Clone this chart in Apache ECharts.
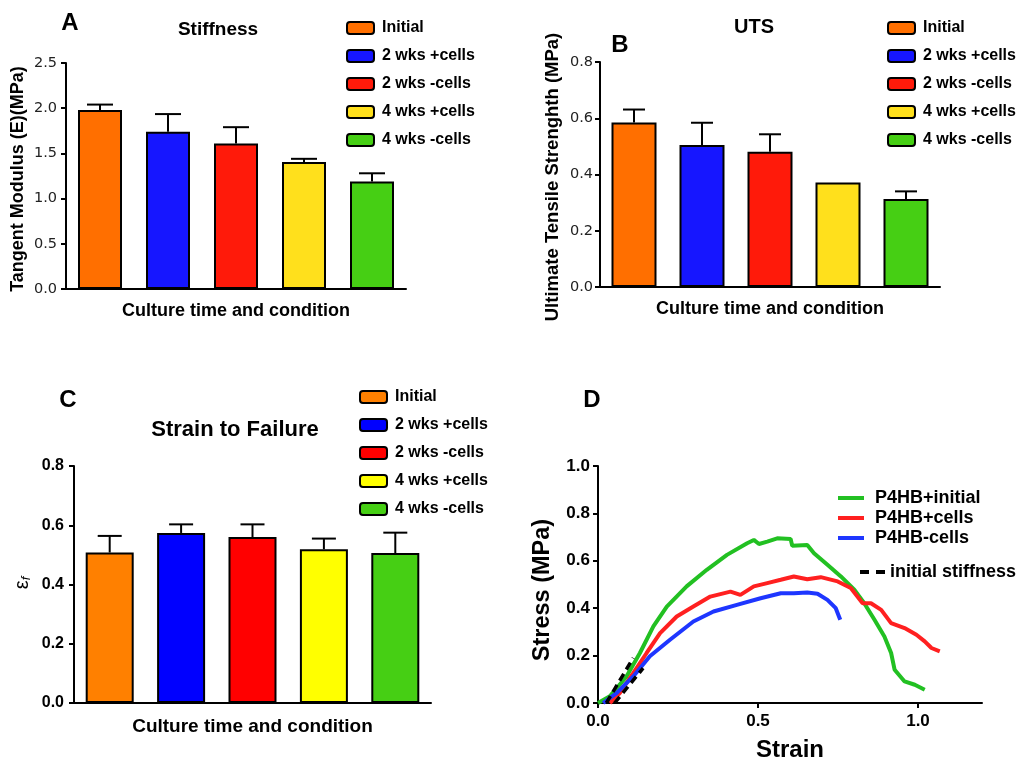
<!DOCTYPE html>
<html><head><meta charset="utf-8">
<script src="https://cdn.jsdelivr.net/npm/echarts@6/dist/echarts.min.js"></script>
<style>html,body{margin:0;padding:0;background:#fff}#c{width:1023px;height:763px}</style>
</head><body><div id="c"></div>
<script>
// ---------- data ----------
const groups = ['Initial', '2 wks +cells', '2 wks -cells', '4 wks +cells', '4 wks -cells'];
const stiffness = [1.98, 1.74, 1.61, 1.405, 1.19];
const stiffnessErr = [0.06, 0.195, 0.18, 0.035, 0.09];
const uts = [0.585, 0.505, 0.481, 0.372, 0.313];
const utsErr = [0.046, 0.079, 0.062, 0, 0.027];
const strainFail = [0.508, 0.574, 0.560, 0.519, 0.506];
const strainFailErr = [0.056, 0.029, 0.043, 0.036, 0.069];
const colorsAB = ['#FF6F00', '#1616FF', '#FF1A0A', '#FFE01C', '#46CF14'];
const colorsC = ['#FF8000', '#0000FF', '#FF0000', '#FFFF00', '#46CF14'];
const ticksA = [0, 0.5, 1.0, 1.5, 2.0, 2.5];
const ticksB = [0, 0.2, 0.4, 0.6, 0.8];
const ticksC = [0, 0.2, 0.4, 0.6, 0.8];
const ticksDy = [0, 0.2, 0.4, 0.6, 0.8, 1.0];
const ticksDx = [0, 0.5, 1.0];
const strainMaxD = 1.2;
const curveNames = ['P4HB+initial', 'P4HB+cells', 'P4HB-cells'];
const curveColors = ['#22C022', '#FF2020', '#1E36FF'];
const p4hbInitial = [[0,0],[0.037,0.028],[0.089,0.112],[0.131,0.211],[0.173,0.323],[0.215,0.407],[0.277,0.492],[0.340,0.562],[0.403,0.625],[0.466,0.674],[0.487,0.688],[0.503,0.671],[0.529,0.681],[0.560,0.695],[0.602,0.692],[0.607,0.663],[0.654,0.667],[0.675,0.632],[0.717,0.583],[0.759,0.534],[0.801,0.478],[0.832,0.421],[0.864,0.351],[0.895,0.281],[0.916,0.211],[0.927,0.140],[0.958,0.091],[0.990,0.077],[1.021,0.056]];
const p4hbCells = [[0.037,0],[0.068,0.042],[0.110,0.126],[0.152,0.211],[0.194,0.295],[0.246,0.365],[0.298,0.407],[0.351,0.449],[0.414,0.470],[0.445,0.456],[0.487,0.492],[0.529,0.506],[0.571,0.520],[0.612,0.534],[0.654,0.522],[0.696,0.531],[0.749,0.513],[0.790,0.485],[0.827,0.421],[0.853,0.421],[0.885,0.393],[0.916,0.337],[0.958,0.316],[0.995,0.288],[1.021,0.260],[1.042,0.232],[1.068,0.218]];
const p4hbNoCells = [[0.016,0],[0.058,0.042],[0.110,0.112],[0.162,0.197],[0.225,0.267],[0.298,0.344],[0.361,0.386],[0.434,0.414],[0.508,0.442],[0.571,0.463],[0.612,0.463],[0.654,0.466],[0.686,0.461],[0.717,0.435],[0.743,0.400],[0.757,0.351]];
const stiffLine1 = [[0.026,0.0],[0.110,0.190]];
const stiffLine2 = [[0.052,0.0],[0.141,0.147]];

// ---------- helpers ----------
const FF = '"Liberation Sans", Arial, sans-serif';
const FW = '"DejaVu Sans", sans-serif';
const BLACK = '#000';
function bars(panel, vals, colors, g, width) {
  return groups.map((name, i) => ({
    name: panel + '|' + name, type: 'bar', xAxisIndex: g, yAxisIndex: g, stack: panel,
    barWidth: width, data: vals.map((v, j) => j === i ? v : '-'),
    itemStyle: { color: colors[i], borderColor: BLACK, borderWidth: 2 }, z: 2
  }));
}
function errs(vals, err, g, cap) {
  return {
    type: 'custom', xAxisIndex: g, yAxisIndex: g, z: 1,
    data: vals.map((v, i) => [i, v, err[i]]), encode: { x: 0, y: 1 },
    renderItem: (params, api) => {
      const i = api.value(0), v = api.value(1), e = api.value(2);
      if (!e) return;
      const b = api.coord([i, v]), t = api.coord([i, v + e]);
      return { type: 'group', children: [
        { type: 'line', shape: { x1: b[0], y1: b[1], x2: t[0], y2: t[1] }, style: { stroke: BLACK, lineWidth: 2 } },
        { type: 'line', shape: { x1: t[0] - cap, y1: t[1], x2: t[0] + cap, y2: t[1] }, style: { stroke: BLACK, lineWidth: 2 } }
      ]};
    }
  };
}
function catAxis(g, nameSize, gap) {
  return { gridIndex: g, type: 'category', data: groups,
    axisLine: { lineStyle: { color: BLACK, width: 2 } },
    axisTick: { alignWithLabel: true, length: 6, lineStyle: { color: BLACK, width: 2 } },
    axisLabel: { show: false }, splitLine: { show: false },
    name: 'Culture time and condition', nameLocation: 'middle', nameGap: gap,
    nameTextStyle: { fontFamily: FF, fontWeight: 'bold', fontSize: nameSize, color: BLACK } };
}
function valAxis(g, ticks, labelStyle, margin) {
  return { gridIndex: g, type: 'value', min: ticks[0], max: ticks[ticks.length - 1], interval: ticks[1] - ticks[0],
    axisLine: { show: true, lineStyle: { color: BLACK, width: 2 } },
    axisTick: { show: true, length: 5, lineStyle: { color: BLACK, width: 2 } },
    splitLine: { show: false },
    axisLabel: Object.assign({ formatter: v => v.toFixed(1), margin: margin, fontFamily: FF }, labelStyle) };
}
function barLegend(panel, left, top) {
  return { data: groups.map(n => panel + '|' + n), left: left, top: top, orient: 'vertical', selectedMode: false,
    icon: 'roundRect', itemWidth: 27, itemHeight: 12, itemGap: 12,
    itemStyle: { borderColor: BLACK, borderWidth: 2 },
    formatter: n => n.split('|')[1],
    textStyle: { fontFamily: FF, fontWeight: 'bold', fontSize: 16, color: BLACK, padding: [0, 0, 0, 3] } };
}
function txt(text, x, y, size, rot) {
  return { type: 'text', x: x, y: y, rotation: rot || 0,
    style: { text: text, font: 'bold ' + size + 'px ' + FF, fill: BLACK, align: 'center', verticalAlign: 'middle' } };
}

const chart = echarts.init(document.getElementById('c'));
const tickLbl = { fontSize: 14.5, color: '#222', fontFamily: FW };
const series = [].concat(
  bars('A', stiffness, colorsAB, 0, 44), [errs(stiffness, stiffnessErr, 0, 13)],
  bars('B', uts, colorsAB, 1, 45), [errs(uts, utsErr, 1, 11)],
  bars('C', strainFail, colorsC, 2, 48), [errs(strainFail, strainFailErr, 2, 12)],
  [p4hbInitial, p4hbCells, p4hbNoCells].map((d, i) => ({
    name: curveNames[i], type: 'line', xAxisIndex: 3, yAxisIndex: 3, data: d, symbol: 'none', showSymbol: false,
    color: curveColors[i], lineStyle: { color: curveColors[i], width: 4 }, z: 2 })),
  [stiffLine1, stiffLine2].map(d => ({
    name: 'initial stiffness', type: 'line', xAxisIndex: 3, yAxisIndex: 3, data: d, symbol: 'none', showSymbol: false,
    color: BLACK, lineStyle: { color: BLACK, width: 3.5, type: [8, 5] }, z: 3 }))
);

chart.setOption({
  animation: false,
  backgroundColor: '#fff',
  grid: [
    { left: 66, top: 63, width: 340, height: 226 },
    { left: 600, top: 62, width: 340, height: 225 },
    { left: 74, top: 466, width: 357, height: 237 },
    { left: 598, top: 466, width: 384, height: 237 }
  ],
  xAxis: [
    catAxis(0, 18, 13), catAxis(1, 18, 13), catAxis(2, 19, 14),
    { gridIndex: 3, type: 'value', min: ticksDx[0], max: strainMaxD, interval: ticksDx[1] - ticksDx[0],
      axisLine: { lineStyle: { color: BLACK, width: 2 } },
      axisTick: { show: true, length: 5, lineStyle: { color: BLACK, width: 2 } },
      splitLine: { show: false },
      axisLabel: { formatter: v => v.toFixed(1), showMaxLabel: false, margin: 10, fontFamily: FF, fontWeight: 'bold', fontSize: 17, color: BLACK },
      name: 'Strain', nameLocation: 'middle', nameGap: 35,
      nameTextStyle: { fontFamily: FF, fontWeight: 'bold', fontSize: 24, color: BLACK } }
  ],
  yAxis: [
    valAxis(0, ticksA, tickLbl, 9),
    valAxis(1, ticksB, tickLbl, 7),
    valAxis(2, ticksC, { fontSize: 16, fontWeight: 'bold', color: BLACK }, 10),
    valAxis(3, ticksDy, { fontSize: 17, fontWeight: 'bold', color: BLACK }, 8)
  ],
  legend: [
    barLegend('A', 341, 15),
    barLegend('B', 882, 15),
    barLegend('C', 354, 384),
    { data: curveNames.map(n => ({ name: n, icon: 'path://M0,0L26,0L26,4L0,4Z' })),
      left: 833, top: 484, orient: 'vertical', selectedMode: false,
      itemWidth: 26, itemHeight: 4, itemGap: 2,
      textStyle: { fontFamily: FF, fontWeight: 'bold', fontSize: 18, color: BLACK, padding: [0, 0, 0, 6] } },
    { data: [{ name: 'initial stiffness', icon: 'path://M0,0L9,0L9,4L0,4Z M16,0L25,0L25,4L16,4Z' }],
      left: 855, top: 558, orient: 'vertical', selectedMode: false,
      itemWidth: 25, itemHeight: 4,
      textStyle: { fontFamily: FF, fontWeight: 'bold', fontSize: 18, color: BLACK, padding: [0, 0, 0, 0] } }
  ],
  graphic: [
    txt('A', 70, 23, 24), txt('Stiffness', 218, 30, 19),
    txt('B', 620, 45, 24), txt('UTS', 754, 27, 20),
    txt('C', 68, 400, 24), txt('Strain to Failure', 235, 430, 22),
    txt('D', 592, 400, 24),
    txt('Tangent Modulus (E)(MPa)', 18, 179, 18, Math.PI / 2),
    txt('Ultimate Tensile Strenghth (MPa)', 553, 177, 18.5, Math.PI / 2),
    { type: 'text', x: 22, y: 583, rotation: Math.PI / 2,
      style: { text: '{a|ε}{b|f}', align: 'center', verticalAlign: 'middle',
        rich: { a: { font: '20px ' + FF, fill: BLACK }, b: { font: 'italic 13px ' + FF, fill: BLACK, padding: [8, 0, 0, 0] } } } },
    txt('Stress (MPa)', 543, 590, 23.5, Math.PI / 2)
  ],
  series: series
});
</script></body></html>
